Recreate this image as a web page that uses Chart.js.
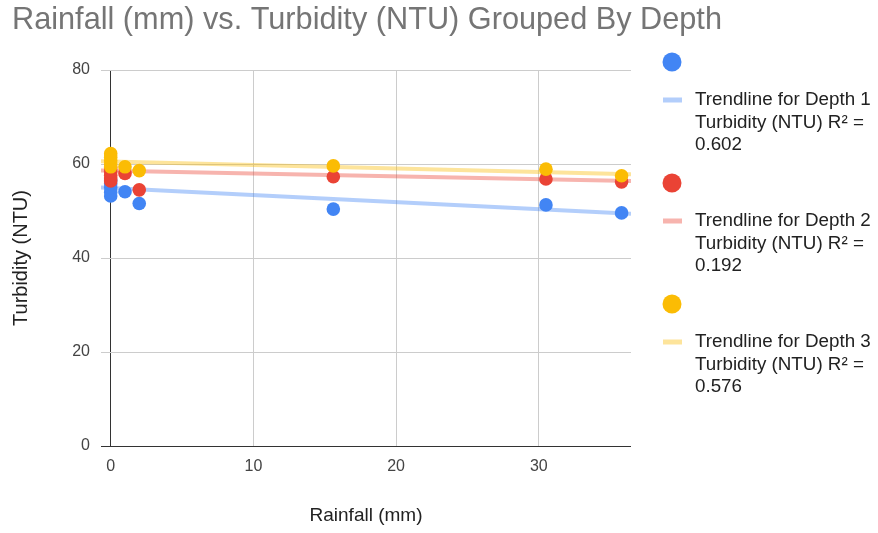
<!DOCTYPE html>
<html>
<head>
<meta charset="utf-8">
<script src="https://cdn.jsdelivr.net/npm/chart.js@4"></script>
<style>
  html, body { margin: 0; padding: 0; background: #fff; }
  #wrap { position: relative; width: 878px; height: 533px; }
</style>
</head>
<body>
<div id="wrap"><canvas id="chart" width="878" height="533"></canvas></div>
<script>
// Rainfall (mm) for each sample
const rainfall = [0, 0, 0, 0, 0, 1, 2, 15.6, 30.5, 35.8];

// Turbidity (NTU) at each depth, same order as rainfall
const depth1Turbidity = [53.2, 54.0, 55.0, 55.8, 56.6, 54.1, 51.6, 50.4, 51.3, 49.6];
const depth2Turbidity = [56.4, 57.0, 57.6, 58.4, 59.2, 58.0, 54.5, 57.3, 56.8, 56.2];
const depth3Turbidity = [59.4, 60.0, 60.7, 61.4, 62.2, 59.4, 58.6, 59.6, 58.9, 57.5];

// Linear trendline end points (rainfall at the plot edges, turbidity at those edges)
const trendRainfall = [-0.68, 36.46];
const trend1 = [55.0, 49.4];
const trend2 = [58.6, 56.4];
const trend3 = [60.6, 57.8];

// Axis ticks
const xTicks = [0, 10, 20, 30];
const yTicks = [0, 20, 40, 60, 80];

const titleText = 'Rainfall (mm) vs. Turbidity (NTU) Grouped By Depth';
const legendLines = [
  ['Trendline for Depth 1', 'Turbidity (NTU) R\u00B2 =', '0.602'],
  ['Trendline for Depth 2', 'Turbidity (NTU) R\u00B2 =', '0.192'],
  ['Trendline for Depth 3', 'Turbidity (NTU) R\u00B2 =', '0.576']
];

const pointColors = ['#4285F4', '#EA4335', '#FBBC04'];
const trendColors = ['rgba(66,133,244,0.4)', 'rgba(234,67,53,0.4)', 'rgba(251,188,4,0.4)'];

const FONT = "'Liberation Sans', Arial, sans-serif";

function toPoints(xs, ys) {
  return xs.map((x, i) => ({ x: x, y: ys[i] }));
}

const seriesTurbidity = [depth1Turbidity, depth2Turbidity, depth3Turbidity];
const trendValues = [trend1, trend2, trend3];

const datasets = [];
seriesTurbidity.forEach((ys, i) => {
  datasets.push({
    label: 'Depth ' + (i + 1) + ' Turbidity (NTU)',
    data: toPoints(rainfall, ys),
    backgroundColor: pointColors[i],
    borderColor: pointColors[i],
    borderWidth: 0,
    pointRadius: 6.8,
    pointHoverRadius: 6.8,
    showLine: false,
    order: 2 - i
  });
});
trendValues.forEach((ys, i) => {
  datasets.push({
    label: legendLines[i].join(' '),
    data: toPoints(trendRainfall, ys),
    borderColor: trendColors[i],
    backgroundColor: trendColors[i],
    borderWidth: 4,
    pointRadius: 0,
    showLine: true,
    fill: false,
    order: 5 - i
  });
});

// Title and right-hand legend
const decorations = {
  id: 'decorations',
  afterDraw(chart) {
    const ctx = chart.ctx;
    ctx.save();
    ctx.fillStyle = '#757575';
    ctx.font = '30.7px ' + FONT;
    ctx.textBaseline = 'middle';
    ctx.textAlign = 'left';
    ctx.fillText(titleText, 12, 20.5);

    const baseY = 62;
    const step = 121;
    for (let i = 0; i < 3; i++) {
      const y0 = baseY + i * step;
      ctx.beginPath();
      ctx.fillStyle = pointColors[i];
      ctx.arc(672, y0, 9.5, 0, Math.PI * 2);
      ctx.fill();

      ctx.fillStyle = trendColors[i];
      ctx.fillRect(663, y0 + 38 - 2.5, 19, 5);

      ctx.fillStyle = '#222';
      ctx.font = '18.8px ' + FONT;
      ctx.textBaseline = 'middle';
      legendLines[i].forEach((line, k) => {
        ctx.fillText(line, 695, y0 + 38 + k * 22.5);
      });
    }
    ctx.restore();
  }
};

new Chart(document.getElementById('chart'), {
  type: 'scatter',
  data: { datasets: datasets },
  options: {
    responsive: false,
    animation: false,
    events: [],
    layout: { padding: { top: 70, right: 247, bottom: 0, left: 0 } },
    plugins: {
      legend: { display: false },
      title: { display: false },
      tooltip: { enabled: false }
    },
    scales: {
      x: {
        type: 'linear',
        min: trendRainfall[0],
        max: trendRainfall[1],
        afterFit(scale) { scale.height = 87; },
        afterBuildTicks(scale) { scale.ticks = xTicks.map(v => ({ value: v })); },
        border: { display: false },
        grid: {
          drawTicks: false,
          color: ctx => (ctx.tick && ctx.tick.value === 0 ? '#333333' : '#cccccc'),
          lineWidth: 1
        },
        ticks: {
          padding: 10.5,
          color: '#444',
          font: { family: FONT, size: 16 }
        },
        title: {
          display: true,
          text: 'Rainfall (mm)',
          color: '#222',
          font: { family: FONT, size: 19 },
          padding: { top: 4, bottom: 5.6 }
        }
      },
      y: {
        type: 'linear',
        min: 0,
        max: 80,
        afterFit(scale) { scale.width = 101; },
        afterBuildTicks(scale) { scale.ticks = yTicks.map(v => ({ value: v })); },
        border: { display: false },
        grid: {
          drawTicks: false,
          color: ctx => (ctx.tick && ctx.tick.value === 0 ? '#333333' : '#cccccc'),
          lineWidth: 1
        },
        ticks: {
          padding: 11,
          color: '#444',
          font: { family: FONT, size: 16 }
        },
        title: {
          display: true,
          text: 'Turbidity (NTU)',
          color: '#222',
          font: { family: FONT, size: 20 },
          padding: { top: 9.5, bottom: 4 }
        }
      }
    }
  },
  plugins: [decorations]
});
</script>
</body>
</html>
